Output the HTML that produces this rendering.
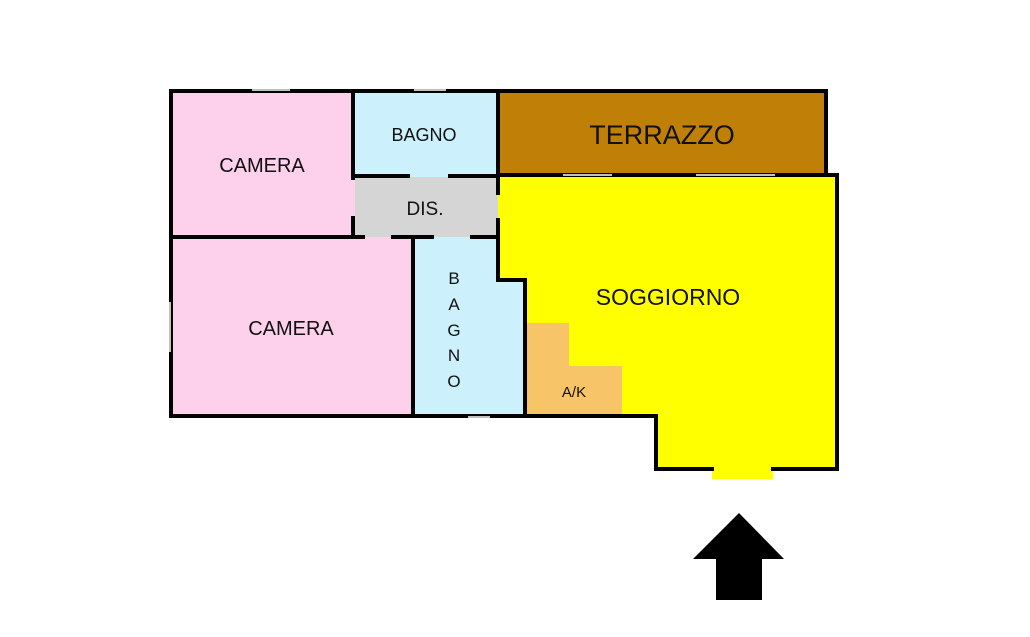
<!DOCTYPE html>
<html><head><style>
html,body{margin:0;padding:0;background:#fff;width:1030px;height:637px;overflow:hidden}
svg text{font-family:"Liberation Sans","DejaVu Sans",sans-serif;fill:#111}
</style></head><body>
<svg width="1030" height="637" viewBox="0 0 1030 637" xmlns="http://www.w3.org/2000/svg">
<rect x="171" y="91" width="184" height="146" fill="#fdd0ec"/>
<rect x="171" y="237" width="243" height="179" fill="#fdd0ec"/>
<rect x="353" y="91" width="145" height="86" fill="#ccf0fc"/>
<rect x="413" y="237" width="112" height="179" fill="#ccf0fc"/>
<rect x="355" y="177" width="144" height="60" fill="#d5d5d5"/>
<rect x="498" y="91" width="328" height="85" fill="#c08008"/>
<polygon points="498,176 837,176 837,469 656,469 656,416 525,416 525,280 498,280" fill="#ffff00"/>
<rect x="712" y="466" width="61" height="13" fill="#ffff00"/>
<polygon points="527,323 569,323 569,366 622,366 622,414 527,414" fill="#f8c468"/>
<g stroke="#000" stroke-width="4" fill="none" stroke-linecap="square">
<line x1="171" y1="91" x2="826" y2="91"/>
<line x1="171" y1="91" x2="171" y2="416"/>
<line x1="171" y1="416" x2="656" y2="416"/>
<line x1="826" y1="91" x2="826" y2="175"/>
<line x1="498" y1="91" x2="498" y2="176"/>
<line x1="353" y1="91" x2="353" y2="178"/>
<line x1="353" y1="176" x2="408" y2="176"/><line x1="450" y1="176" x2="498" y2="176"/>
<line x1="498" y1="175" x2="837" y2="175"/>
<line x1="837" y1="175" x2="837" y2="469"/>
<line x1="656" y1="416" x2="656" y2="469"/>
<line x1="656" y1="469" x2="712" y2="469"/><line x1="773" y1="469" x2="837" y2="469"/>
<line x1="353" y1="218" x2="353" y2="237"/>
<line x1="171" y1="237" x2="363" y2="237"/>
<line x1="393" y1="237" x2="432" y2="237"/><line x1="472" y1="237" x2="498" y2="237"/>
<line x1="413" y1="237" x2="413" y2="416"/>
<line x1="498" y1="176" x2="498" y2="193"/><line x1="498" y1="220" x2="498" y2="280"/>
<line x1="498" y1="280" x2="525" y2="280"/>
<line x1="525" y1="280" x2="525" y2="416"/>
</g>
<!-- windows: thin white marks -->
<g stroke="#fff" stroke-width="1.5">
<line x1="252" y1="90" x2="290" y2="90"/>
<line x1="414" y1="90" x2="446" y2="90"/>
<line x1="563" y1="175" x2="612" y2="175"/>
<line x1="696" y1="175" x2="775" y2="175"/>
<line x1="170" y1="302" x2="170" y2="352"/>
<line x1="468" y1="417" x2="490" y2="417"/>
</g>
<text x="262" y="172" font-size="20" text-anchor="middle">CAMERA</text>
<text x="424" y="141" font-size="18" text-anchor="middle">BAGNO</text>
<text x="425" y="215" font-size="19" text-anchor="middle">DIS.</text>
<text x="291" y="335" font-size="20" text-anchor="middle">CAMERA</text>
<g font-size="17" text-anchor="middle">
<text x="454" y="284">B</text><text x="454" y="310">A</text><text x="454" y="336">G</text><text x="454" y="361">N</text><text x="454" y="387">O</text>
</g>
<text x="662" y="144" font-size="27" text-anchor="middle">TERRAZZO</text>
<text x="668" y="305" font-size="23" text-anchor="middle">SOGGIORNO</text>
<text x="574" y="397" font-size="15" text-anchor="middle">A/K</text>
<polygon points="739,513 784,559 762,559 762,600 716,600 716,559 693,559" fill="#000"/>
</svg>
</body></html>
